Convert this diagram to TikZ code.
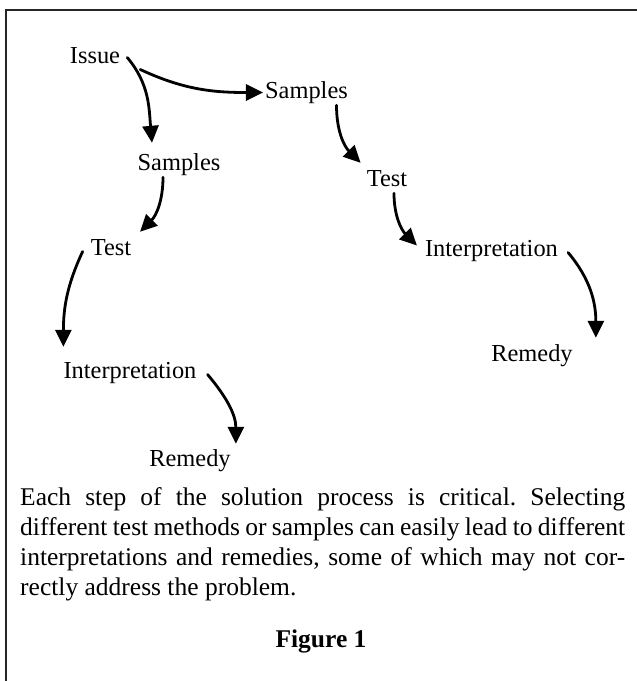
\documentclass[tikz,border=0pt]{standalone}
\usepackage{fontspec}
\setmainfont{Liberation Serif}
\usetikzlibrary{arrows.meta}
\frenchspacing

\tikzset{
	stage/.style={anchor=base, inner sep=2pt, text height=16pt, text depth=5pt, font=\fontsize{24.4}{29}\selectfont},
	link/.style={-{Triangle[length=17pt,width=16pt]}, line width=2.8pt, line cap=round}
}

\begin{document}
\begin{tikzpicture}[x=1pt, y=1pt]
				\useasboundingbox (0,0) rectangle (637,-681);
				\draw[line width=2pt, black!85] (6,-681) -- (6,-10) -- (637,-10);
				\node[stage] (Issue)at(95, -63) {Issue};
				\node[stage] (SamplesR)at(306.5, -98) {Samples};
				\node[stage] (SamplesL)at(179, -170) {Samples};
				\node[stage] (TestR)at(387, -186) {Test};
				\node[stage] (TestL)at(111, -255) {Test};
				\node[stage] (InterpR)at(491.5, -256) {Interpretation};
				\node[stage] (InterpL)at(130, -378) {Interpretation};
				\node[stage] (RemedyR)at(532, -361) {Remedy};
				\node[stage] (RemedyL)at(190, -466) {Remedy};
				\draw[link] ([xshift=5pt]Issue.east) to[out=-50, in=95] ([xshift=-27pt, yshift=9pt]SamplesL.north);
				\draw[link] ([xshift=18pt, yshift=-12pt]Issue.east) to[out=-25, in=180] (SamplesR.west);
				\draw[link] ([xshift=-16pt]SamplesL.south) to[out=-90, in=45] ([xshift=29pt, yshift=5pt]TestL.north);
				\draw[link] ([xshift=-6pt, yshift=-2pt]TestL.west) to[out=-115, in=90] ([xshift=2pt, yshift=13pt]InterpL.north west);
				\draw[link] ([xshift=9pt, yshift=-2pt]InterpL.east) to[out=-50, in=90] ([xshift=3pt, yshift=4pt]RemedyL.north east);
				\draw[link] ([xshift=30pt]SamplesR.south) to[out=-90, in=135] ([xshift=-4pt, yshift=5pt]TestR.north west);
				\draw[link] ([xshift=7pt]TestR.south) to[out=-90, in=135] ([xshift=-6pt, yshift=5pt]InterpR.west);
				\draw[link] ([xshift=8pt, yshift=-2pt]InterpR.east) to[out=-50, in=90] ([xshift=21pt, yshift=5pt]RemedyR.north east);
				\node[anchor=north west, inner sep=0pt, text width=605pt, align=justify, font=\fontsize{25.5}{30}\selectfont] (caption)at(20, -487) {Each step of the solution process is critical. Selecting\linebreak different test methods or samples can easily lead to different\linebreak interpretations and remedies, some of which may not cor-\linebreak rectly address the problem.};
				\node[font=\fontsize{25.5}{30}\selectfont\bfseries] (figlabel)at(321, -641) {Figure 1};
			\end{tikzpicture}
\end{document}
